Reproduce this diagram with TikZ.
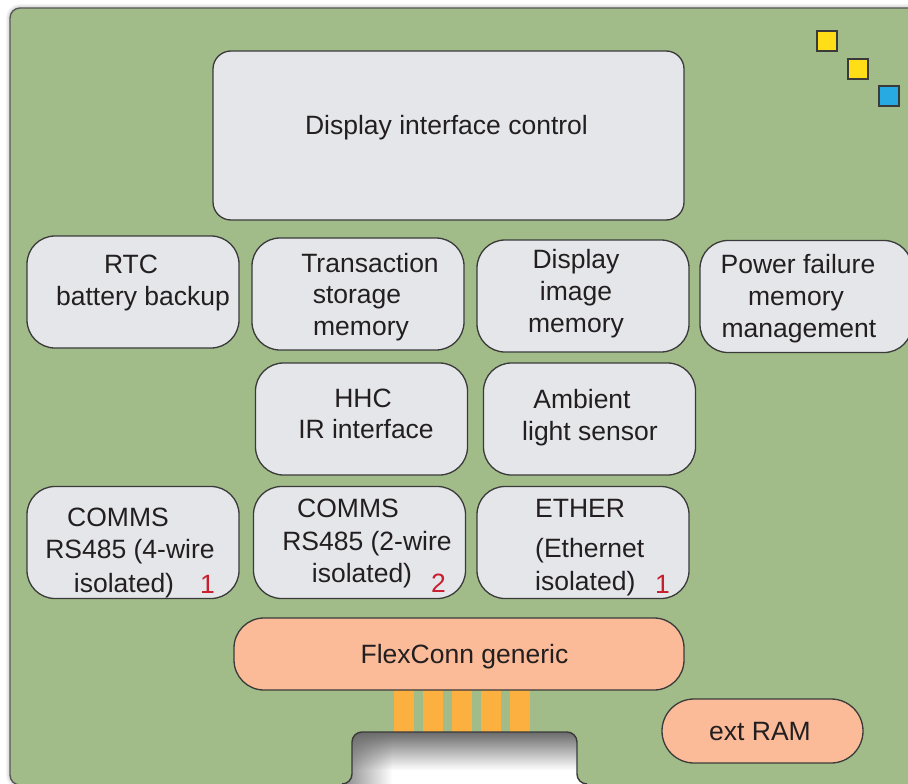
\documentclass[tikz,border=0pt]{standalone}
\usepackage{fontspec}
\setmainfont{Liberation Sans}
\usetikzlibrary{fadings}

\definecolor{boardgreen}{RGB}{161,187,137}
\definecolor{boxgray}{RGB}{229,230,234}
\definecolor{edgegray}{RGB}{58,58,58}
\definecolor{flexpeach}{RGB}{251,187,152}
\definecolor{pinorange}{RGB}{251,176,64}
\definecolor{sqyellow}{RGB}{255,222,23}
\definecolor{sqblue}{RGB}{39,170,225}
\definecolor{inkblack}{RGB}{35,31,32}
\definecolor{numred}{RGB}{200,30,45}

\tikzset{
  blk/.style={draw=edgegray, line width=1.3pt, fill=boxgray, rounded corners=28pt,
    minimum width=212, minimum height=112, inner sep=0pt},
  pill/.style={draw=edgegray, line width=1.3pt, fill=flexpeach, inner sep=0pt},
  sq/.style={draw=edgegray, line width=1.4pt, minimum size=20, inner sep=0pt},
  lbl/.style={font=\fontsize{26.5}{32}\selectfont, text=inkblack, inner sep=0pt, anchor=base},
  num/.style={lbl, text=numred},
}

\begin{document}
\begin{tikzpicture}[x=1pt, y=-1pt]
\useasboundingbox (0,0) rectangle (908,784);
\clip (0,0) rectangle (908,784);

% board with a soft halo
\foreach \w in {2,4,6,8}
  \draw[black, opacity=0.04, line width=\w, rounded corners=10] (10,8) rectangle (930,785);
\draw[fill=boardgreen, draw=edgegray!85, line width=1.4pt, rounded corners=10] (10,8) rectangle (930,785);

% connector pins
\foreach \px in {394,423,452,481,510}
  \fill[pinorange] (\px,688) rectangle ++(20,44);

% cut-out at the lower edge
\begin{scope}
  \clip[rounded corners=10] (330,784) -- (352,784) -- (352,732) -- (577,732) -- (577,784) -- (600,784) -- (600,800) -- (330,800) -- cycle;
  \fill[white] (330,720) rectangle (600,800);
  \fill[black!58, path fading=south] (330,732) rectangle (600,770);
  \fill[black!58, path fading=east] (330,732) rectangle (392,800);
\end{scope}
\draw[edgegray, line width=1.4pt, rounded corners=10] (342,784) -- (352,784) -- (352,732) -- (577,732) -- (577,784) -- (587,784);

% blocks
\node[blk, rounded corners=18pt, minimum width=471, minimum height=169] (disp) at (448.5,135.5) {};
\node[blk] (rtc) at (133,292) {};
\node[blk] (trans) at (358,294) {};
\node[blk] (dimg) at (583,296) {};
\node[blk] (power) at (806,296.5) {};
\node[blk] (hhc) at (361.5,419) {};
\node[blk] (amb) at (589.5,419) {};
\node[blk] (comfour) at (133,542.5) {};
\node[blk] (comtwo) at (359.5,542.5) {};
\node[blk] (ether) at (583,542.5) {};
\node[pill, rounded corners=30pt, minimum width=450, minimum height=72] (flex) at (459,654) {};
\node[pill, rounded corners=32pt, minimum width=201, minimum height=64] (ram) at (762.5,731) {};

% block texts
\foreach \px/\py/\txt [count=\i] in {
  446.5/134/{Display interface control},
  131/273/{RTC}, 143/305/{battery backup},
  370/272/{Transaction}, 357/303/{storage}, 361/335/{memory},
  576/268/{Display}, 576/300/{image}, 576/332/{memory},
  798/273/{Power failure}, 796/305/{memory}, 799/337/{management},
  363/407/{HHC}, 366/438/{IR interface},
  582/408/{Ambient}, 590/440/{light sensor},
  118/526/{COMMS}, 130/558/{RS485 (4-wire}, 124/592/{isolated)},
  348/517/{COMMS}, 367/550/{RS485 (2-wire}, 362/582/{isolated)},
  464.5/663/{FlexConn generic},
  760/740/{ext RAM}}
  \node[lbl] (t\i) at (\px,\py) {\txt};
\node[lbl, anchor=base west] (eth1) at (535,517) {ETHER};
\node[lbl, anchor=base west] (eth2) at (535,557) {(Ethernet};
\node[lbl, anchor=base west] (eth3) at (535,590) {isolated)};

% counts
\node[num] (nfour) at (207.5,593) {1};
\node[num] (ntwo) at (438.5,592) {2};
\node[num] (neth) at (662.5,593) {1};

% corner markers
\node[sq, fill=sqyellow] (mka) at (827,41) {};
\node[sq, fill=sqyellow] (mkb) at (858,69) {};
\node[sq, fill=sqblue] (mkc) at (889,96) {};
\end{tikzpicture}
\end{document}
